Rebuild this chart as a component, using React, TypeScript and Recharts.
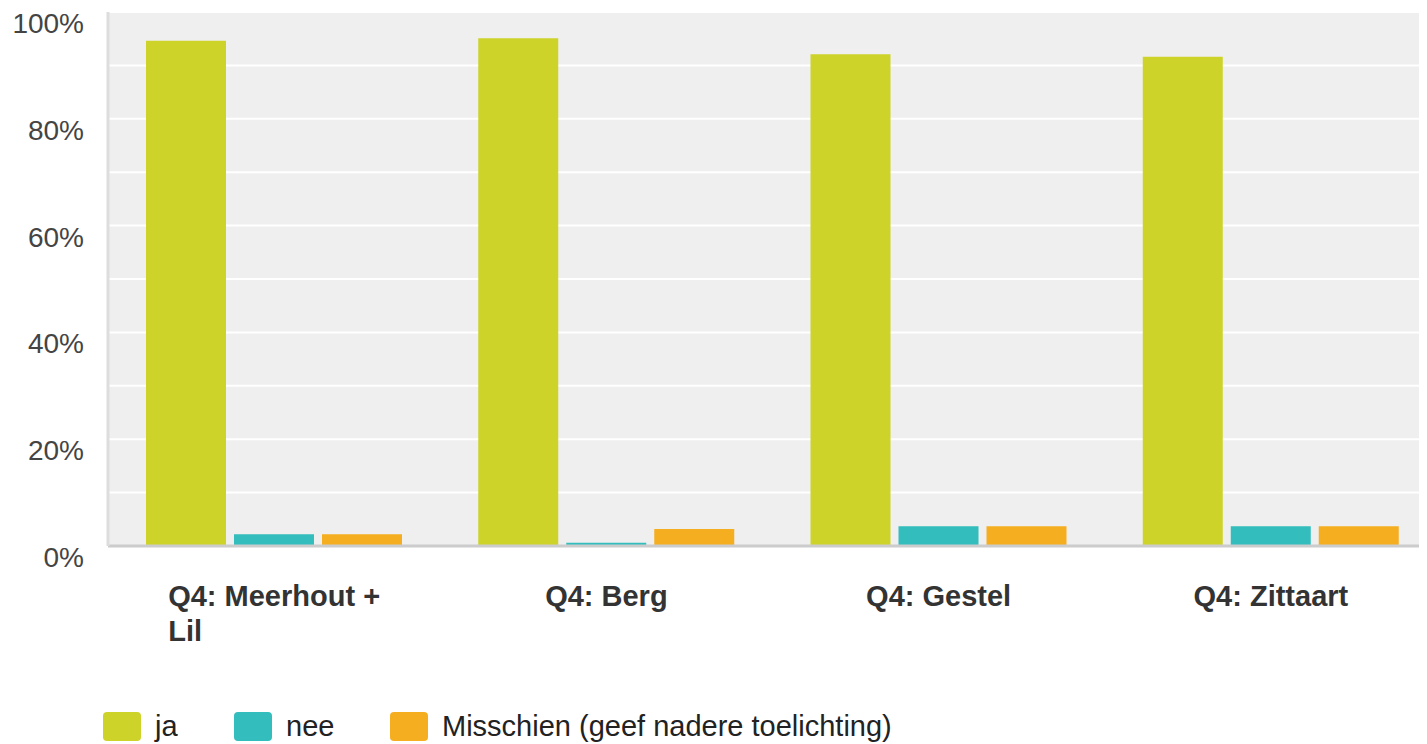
import React from "react";
import { BarChart, Bar, XAxis, YAxis, CartesianGrid, Legend } from "recharts";

const categories = ["Q4: Meerhout + Lil", "Q4: Berg", "Q4: Gestel", "Q4: Zittaart"];
const jaValues = [94.6, 95.1, 92.1, 91.6];
const neeValues = [2.2, 0.6, 3.7, 3.7];
const misschienValues = [2.2, 3.2, 3.7, 3.7];
const seriesNames = ["ja", "nee", "Misschien (geef nadere toelichting)"];
const seriesColors = ["#CED32A", "#33BDBD", "#F5AE20"];
const yTicks = [0, 20, 40, 60, 80, 100];
const gridTicks = [0, 10, 20, 30, 40, 50, 60, 70, 80, 90, 100];

const data = categories.map((c, i) => ({
  name: c,
  ja: jaValues[i],
  nee: neeValues[i],
  mis: misschienValues[i],
}));
const keys = ["ja", "nee", "mis"];

const FONT = "'Liberation Sans', Arial, Helvetica, sans-serif";

let canvasCtx: CanvasRenderingContext2D | null = null;
function measure(text: string, font: string) {
  if (!canvasCtx) {
    const c = document.createElement("canvas");
    canvasCtx = c.getContext("2d");
  }
  if (!canvasCtx) return text.length * 15;
  canvasCtx.font = font;
  return canvasCtx.measureText(text).width;
}

const XTick = (props: any) => {
  const { x, y, payload } = props;
  const font = `bold 29px ${FONT}`;
  const maxW = 240;
  const words = String(payload.value).split(" ");
  const lines: string[] = [];
  let cur = "";
  words.forEach((w) => {
    const t = cur ? cur + " " + w : w;
    if (cur && measure(t, font) > maxW) {
      lines.push(cur);
      cur = w;
    } else cur = t;
  });
  if (cur) lines.push(cur);
  const W = Math.max(...lines.map((l) => measure(l, font)));
  return (
    <text x={x - W / 2} y={y + 52} fontFamily={FONT} fontWeight="bold" fontSize={29} fill="#333" textAnchor="start">
      {lines.map((l, i) => (
        <tspan key={i} x={x - W / 2} dy={i === 0 ? 0 : 35}>
          {l}
        </tspan>
      ))}
    </text>
  );
};

const YTick = (props: any) => {
  const { y, payload } = props;
  return (
    <text x={84} y={y + 21} fontFamily={FONT} fontSize={28} fill="#444" textAnchor="end">
      {payload.value}%
    </text>
  );
};

const itemWidths = [131, 156, undefined];

const LegendContent = () => (
  <div style={{ display: "flex", alignItems: "center", fontFamily: FONT, fontSize: 29, color: "#222" }}>
    {seriesNames.map((n, i) => (
      <div key={n} style={{ display: "flex", alignItems: "center", width: itemWidths[i], flex: "none" }}>
        <div style={{ width: 38, height: 29, background: seriesColors[i], borderRadius: 4, marginRight: 14 }} />
        <span style={{ lineHeight: "29px", whiteSpace: "nowrap" }}>{n}</span>
      </div>
    ))}
  </div>
);

export default function App() {
  return (
    <div style={{ margin: "-8px -8px 0 -8px", width: 1427, height: 744, overflow: "hidden", background: "#fff", position: "relative" }}>
      <BarChart
        width={1437}
        height={744}
        data={data}
        margin={{ top: 12, right: 0, left: 0, bottom: 0 }}
        barCategoryGap={38}
        barGap={8}
      >
        <CartesianGrid
          vertical={false}
          stroke="#FFFFFF"
          strokeWidth={2}
          fill="#EFEFEF"
          horizontalValues={gridTicks}
        />
        <XAxis
          dataKey="name"
          height={198}
          axisLine={{ stroke: "#CCCCCC", strokeWidth: 3 }}
          tickLine={false}
          tick={<XTick />}
          interval={0}
        />
        <YAxis
          width={108}
          domain={[0, 100]}
          ticks={yTicks}
          axisLine={{ stroke: "#DDDDDD", strokeWidth: 3 }}
          tickLine={false}
          tick={<YTick />}
        />
        {keys.map((k, i) => (
          <Bar key={k} dataKey={k} name={seriesNames[i]} fill={seriesColors[i]} isAnimationActive={false} />
        ))}
        <Legend
          layout="horizontal"
          verticalAlign="middle"
          align="center"
          content={<LegendContent />}
          wrapperStyle={{ top: 712, left: 103, width: 1200, height: 29 }}
        />
      </BarChart>
    </div>
  );
}
